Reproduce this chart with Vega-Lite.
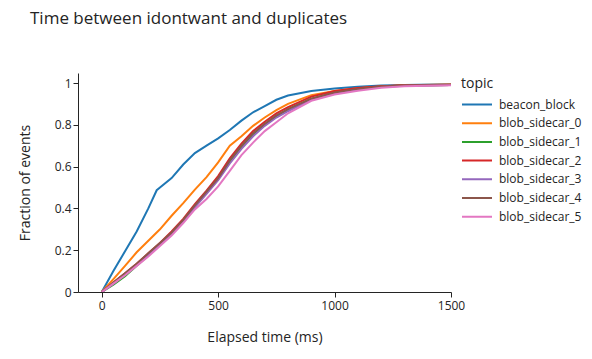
{
  "$schema": "https://vega.github.io/schema/vega-lite/v6.json",
  "width": 373,
  "height": 219,
  "autosize": {"type": "none"},
  "padding": {"left": 78, "top": 73, "right": 141, "bottom": 67},
  "background": "white",
  "title": {
    "text": "Time between idontwant and duplicates",
    "anchor": "start",
    "frame": "group",
    "dx": -48,
    "offset": 45,
    "font": "Open Sans",
    "fontSize": 17,
    "fontWeight": "normal",
    "color": "#242424"
  },
  "config": {
    "view": {"stroke": null},
    "axis": {
      "domainColor": "#242424",
      "tickColor": "#242424",
      "tickSize": 5,
      "grid": false,
      "labelFont": "Open Sans",
      "labelFontSize": 12,
      "labelColor": "#242424",
      "titleFont": "Open Sans",
      "titleFontSize": 14,
      "titleFontWeight": "normal",
      "titleColor": "#242424"
    }
  },
  "data": {
    "values": [
      {"topic":"beacon_block","x":0,"y":0},{"topic":"beacon_block","x":50,"y":0.1},{"topic":"beacon_block","x":100,"y":0.195},{"topic":"beacon_block","x":150,"y":0.29},{"topic":"beacon_block","x":200,"y":0.4},{"topic":"beacon_block","x":236,"y":0.487},{"topic":"beacon_block","x":250,"y":0.5},{"topic":"beacon_block","x":300,"y":0.545},{"topic":"beacon_block","x":350,"y":0.61},{"topic":"beacon_block","x":400,"y":0.665},{"topic":"beacon_block","x":450,"y":0.7},{"topic":"beacon_block","x":500,"y":0.735},{"topic":"beacon_block","x":550,"y":0.775},{"topic":"beacon_block","x":600,"y":0.82},{"topic":"beacon_block","x":650,"y":0.86},{"topic":"beacon_block","x":700,"y":0.89},{"topic":"beacon_block","x":750,"y":0.92},{"topic":"beacon_block","x":800,"y":0.94},{"topic":"beacon_block","x":900,"y":0.962},{"topic":"beacon_block","x":1000,"y":0.974},{"topic":"beacon_block","x":1100,"y":0.982},{"topic":"beacon_block","x":1200,"y":0.988},{"topic":"beacon_block","x":1300,"y":0.991},{"topic":"beacon_block","x":1500,"y":0.994},
      {"topic":"blob_sidecar_0","x":0,"y":0},{"topic":"blob_sidecar_0","x":50,"y":0.062},{"topic":"blob_sidecar_0","x":100,"y":0.125},{"topic":"blob_sidecar_0","x":150,"y":0.19},{"topic":"blob_sidecar_0","x":200,"y":0.245},{"topic":"blob_sidecar_0","x":250,"y":0.3},{"topic":"blob_sidecar_0","x":300,"y":0.365},{"topic":"blob_sidecar_0","x":350,"y":0.425},{"topic":"blob_sidecar_0","x":400,"y":0.49},{"topic":"blob_sidecar_0","x":450,"y":0.55},{"topic":"blob_sidecar_0","x":500,"y":0.62},{"topic":"blob_sidecar_0","x":550,"y":0.7},{"topic":"blob_sidecar_0","x":600,"y":0.745},{"topic":"blob_sidecar_0","x":650,"y":0.795},{"topic":"blob_sidecar_0","x":700,"y":0.835},{"topic":"blob_sidecar_0","x":750,"y":0.87},{"topic":"blob_sidecar_0","x":800,"y":0.9},{"topic":"blob_sidecar_0","x":900,"y":0.942},{"topic":"blob_sidecar_0","x":1000,"y":0.962},{"topic":"blob_sidecar_0","x":1100,"y":0.975},{"topic":"blob_sidecar_0","x":1200,"y":0.984},{"topic":"blob_sidecar_0","x":1300,"y":0.989},{"topic":"blob_sidecar_0","x":1500,"y":0.993},
      {"topic":"blob_sidecar_1","x":0,"y":0},{"topic":"blob_sidecar_1","x":50,"y":0.035},{"topic":"blob_sidecar_1","x":100,"y":0.075},{"topic":"blob_sidecar_1","x":150,"y":0.125},{"topic":"blob_sidecar_1","x":200,"y":0.175},{"topic":"blob_sidecar_1","x":250,"y":0.23},{"topic":"blob_sidecar_1","x":300,"y":0.28},{"topic":"blob_sidecar_1","x":350,"y":0.34},{"topic":"blob_sidecar_1","x":400,"y":0.41},{"topic":"blob_sidecar_1","x":450,"y":0.475},{"topic":"blob_sidecar_1","x":500,"y":0.54},{"topic":"blob_sidecar_1","x":550,"y":0.625},{"topic":"blob_sidecar_1","x":600,"y":0.695},{"topic":"blob_sidecar_1","x":650,"y":0.755},{"topic":"blob_sidecar_1","x":700,"y":0.8},{"topic":"blob_sidecar_1","x":750,"y":0.84},{"topic":"blob_sidecar_1","x":800,"y":0.875},{"topic":"blob_sidecar_1","x":900,"y":0.925},{"topic":"blob_sidecar_1","x":1000,"y":0.955},{"topic":"blob_sidecar_1","x":1100,"y":0.971},{"topic":"blob_sidecar_1","x":1200,"y":0.982},{"topic":"blob_sidecar_1","x":1300,"y":0.988},{"topic":"blob_sidecar_1","x":1500,"y":0.991},
      {"topic":"blob_sidecar_2","x":0,"y":0},{"topic":"blob_sidecar_2","x":50,"y":0.045},{"topic":"blob_sidecar_2","x":100,"y":0.09},{"topic":"blob_sidecar_2","x":150,"y":0.135},{"topic":"blob_sidecar_2","x":200,"y":0.185},{"topic":"blob_sidecar_2","x":250,"y":0.235},{"topic":"blob_sidecar_2","x":300,"y":0.29},{"topic":"blob_sidecar_2","x":350,"y":0.35},{"topic":"blob_sidecar_2","x":400,"y":0.42},{"topic":"blob_sidecar_2","x":450,"y":0.485},{"topic":"blob_sidecar_2","x":500,"y":0.555},{"topic":"blob_sidecar_2","x":550,"y":0.64},{"topic":"blob_sidecar_2","x":600,"y":0.71},{"topic":"blob_sidecar_2","x":650,"y":0.77},{"topic":"blob_sidecar_2","x":700,"y":0.815},{"topic":"blob_sidecar_2","x":750,"y":0.855},{"topic":"blob_sidecar_2","x":800,"y":0.885},{"topic":"blob_sidecar_2","x":900,"y":0.935},{"topic":"blob_sidecar_2","x":1000,"y":0.962},{"topic":"blob_sidecar_2","x":1100,"y":0.976},{"topic":"blob_sidecar_2","x":1200,"y":0.985},{"topic":"blob_sidecar_2","x":1300,"y":0.989},{"topic":"blob_sidecar_2","x":1500,"y":0.992},
      {"topic":"blob_sidecar_3","x":0,"y":0},{"topic":"blob_sidecar_3","x":50,"y":0.04},{"topic":"blob_sidecar_3","x":100,"y":0.085},{"topic":"blob_sidecar_3","x":150,"y":0.13},{"topic":"blob_sidecar_3","x":200,"y":0.18},{"topic":"blob_sidecar_3","x":250,"y":0.23},{"topic":"blob_sidecar_3","x":300,"y":0.28},{"topic":"blob_sidecar_3","x":350,"y":0.34},{"topic":"blob_sidecar_3","x":400,"y":0.405},{"topic":"blob_sidecar_3","x":450,"y":0.47},{"topic":"blob_sidecar_3","x":500,"y":0.535},{"topic":"blob_sidecar_3","x":550,"y":0.615},{"topic":"blob_sidecar_3","x":600,"y":0.685},{"topic":"blob_sidecar_3","x":650,"y":0.745},{"topic":"blob_sidecar_3","x":700,"y":0.795},{"topic":"blob_sidecar_3","x":750,"y":0.835},{"topic":"blob_sidecar_3","x":800,"y":0.865},{"topic":"blob_sidecar_3","x":900,"y":0.92},{"topic":"blob_sidecar_3","x":1000,"y":0.95},{"topic":"blob_sidecar_3","x":1100,"y":0.968},{"topic":"blob_sidecar_3","x":1200,"y":0.981},{"topic":"blob_sidecar_3","x":1300,"y":0.987},{"topic":"blob_sidecar_3","x":1500,"y":0.99},
      {"topic":"blob_sidecar_4","x":0,"y":0},{"topic":"blob_sidecar_4","x":50,"y":0.045},{"topic":"blob_sidecar_4","x":100,"y":0.09},{"topic":"blob_sidecar_4","x":150,"y":0.135},{"topic":"blob_sidecar_4","x":200,"y":0.185},{"topic":"blob_sidecar_4","x":250,"y":0.235},{"topic":"blob_sidecar_4","x":300,"y":0.285},{"topic":"blob_sidecar_4","x":350,"y":0.345},{"topic":"blob_sidecar_4","x":400,"y":0.415},{"topic":"blob_sidecar_4","x":450,"y":0.48},{"topic":"blob_sidecar_4","x":500,"y":0.545},{"topic":"blob_sidecar_4","x":550,"y":0.63},{"topic":"blob_sidecar_4","x":600,"y":0.7},{"topic":"blob_sidecar_4","x":650,"y":0.76},{"topic":"blob_sidecar_4","x":700,"y":0.805},{"topic":"blob_sidecar_4","x":750,"y":0.845},{"topic":"blob_sidecar_4","x":800,"y":0.875},{"topic":"blob_sidecar_4","x":900,"y":0.925},{"topic":"blob_sidecar_4","x":1000,"y":0.955},{"topic":"blob_sidecar_4","x":1100,"y":0.972},{"topic":"blob_sidecar_4","x":1200,"y":0.983},{"topic":"blob_sidecar_4","x":1300,"y":0.988},{"topic":"blob_sidecar_4","x":1500,"y":0.991},
      {"topic":"blob_sidecar_5","x":0,"y":0},{"topic":"blob_sidecar_5","x":50,"y":0.04},{"topic":"blob_sidecar_5","x":100,"y":0.08},{"topic":"blob_sidecar_5","x":150,"y":0.125},{"topic":"blob_sidecar_5","x":200,"y":0.17},{"topic":"blob_sidecar_5","x":250,"y":0.22},{"topic":"blob_sidecar_5","x":300,"y":0.27},{"topic":"blob_sidecar_5","x":350,"y":0.33},{"topic":"blob_sidecar_5","x":400,"y":0.395},{"topic":"blob_sidecar_5","x":450,"y":0.445},{"topic":"blob_sidecar_5","x":500,"y":0.505},{"topic":"blob_sidecar_5","x":550,"y":0.58},{"topic":"blob_sidecar_5","x":600,"y":0.655},{"topic":"blob_sidecar_5","x":650,"y":0.715},{"topic":"blob_sidecar_5","x":700,"y":0.77},{"topic":"blob_sidecar_5","x":750,"y":0.812},{"topic":"blob_sidecar_5","x":800,"y":0.855},{"topic":"blob_sidecar_5","x":900,"y":0.915},{"topic":"blob_sidecar_5","x":1000,"y":0.945},{"topic":"blob_sidecar_5","x":1100,"y":0.963},{"topic":"blob_sidecar_5","x":1200,"y":0.977},{"topic":"blob_sidecar_5","x":1300,"y":0.985},{"topic":"blob_sidecar_5","x":1500,"y":0.989}
    ]
  },
  "mark": {"type": "line", "strokeWidth": 2, "clip": true},
  "encoding": {
    "x": {
      "field": "x",
      "type": "quantitative",
      "scale": {"domain": [-102, 1500], "nice": false, "zero": false},
      "axis": {"values": [0, 500, 1000, 1500], "format": "d", "title": "Elapsed time (ms)", "labelPadding": 3, "titleX": 186.5, "titleY": 45, "titleBaseline": "middle", "labelFlush": false}
    },
    "y": {
      "field": "y",
      "type": "quantitative",
      "scale": {"domain": [0, 1.048], "nice": false},
      "axis": {"values": [0, 0.2, 0.4, 0.6, 0.8, 1], "format": "~g", "title": "Fraction of events", "labelPadding": 2, "titleX": -53, "titleY": 109.5, "titleBaseline": "middle", "titleAngle": -90, "labelFlush": false}
    },
    "color": {
      "field": "topic",
      "type": "nominal",
      "scale": {
        "domain": ["beacon_block","blob_sidecar_0","blob_sidecar_1","blob_sidecar_2","blob_sidecar_3","blob_sidecar_4","blob_sidecar_5"],
        "range": ["#1f77b4","#ff7f0e","#2ca02c","#d62728","#9467bd","#8c564b","#e377c2"]
      },
      "legend": {
        "orient": "none",
        "legendX": 383,
        "legendY": 4,
        "title": "topic",
        "titleFont": "Open Sans",
        "titleFontSize": 14,
        "titleFontWeight": "normal",
        "titleColor": "#242424",
        "titlePadding": 6,
        "labelFont": "Open Sans",
        "labelFontSize": 12,
        "labelColor": "#242424",
        "labelOffset": 6,
        "symbolType": "stroke",
        "symbolSize": 900,
        "symbolStrokeWidth": 2,
        "clipHeight": 15,
        "rowPadding": 3.7,
        "offset": 0,
        "padding": 0
      }
    }
  }
}
